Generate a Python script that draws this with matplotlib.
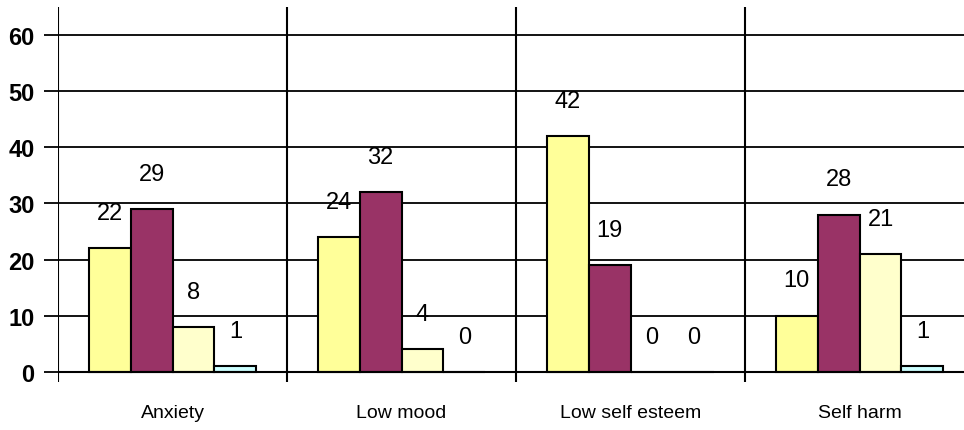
import matplotlib.pyplot as plt
import numpy as np

plt.rcParams['font.family'] = ['Liberation Sans', 'DejaVu Sans']

# Dados
categories = ['Anxiety', 'Low mood', 'Low self esteem', 'Self harm']
series_a = [22, 24, 42, 10]
series_b = [29, 32, 19, 28]
series_c = [8, 4, 0, 21]
series_d = [1, 0, 0, 1]

series = [series_a, series_b, series_c, series_d]
colors = ['#FFFF99', '#993366', '#FFFFCC', '#CCFFFF']

fig = plt.figure(figsize=(9.64, 4.31), dpi=100)
ax = fig.add_axes([58 / 964, 1 - 383 / 431, 1 - 58 / 964, (383 - 8) / 431])

x = np.arange(len(categories))
width = 0.183
offsets = (np.arange(4) - 1.5) * width

for vals, off, col in zip(series, offsets, colors):
    ax.bar(x + off, vals, width, color=col, edgecolor='black', linewidth=1.5, zorder=3)
    for xi, v in zip(x + off, vals):
        ax.text(xi, v + 6.3, str(v), ha='center', va='center', fontsize=17, zorder=4)

ax.set_ylim(-1.8, 65)
ax.set_xlim(-0.5, 3.456)

ax.set_yticks(range(0, 61, 10))
ax.set_yticklabels([str(t) for t in range(0, 61, 10)], fontsize=17, fontweight='bold')
ax.yaxis.grid(True, color='black', linewidth=1.3, zorder=0)
ax.tick_params(axis='y', length=10, width=1.3, pad=7)

# separadores de categoria
for b in np.arange(-0.5, 4, 1.0):
    ax.axvline(b, color='black', linewidth=1.5, zorder=2)

ax.axhline(0, color='black', linewidth=1.5, zorder=5)

ax.set_xticks(x)
ax.set_xticklabels(categories, fontsize=14)
ax.tick_params(axis='x', length=0, pad=16)

for s in ax.spines.values():
    s.set_visible(False)

plt.savefig('out.png', dpi=100)
